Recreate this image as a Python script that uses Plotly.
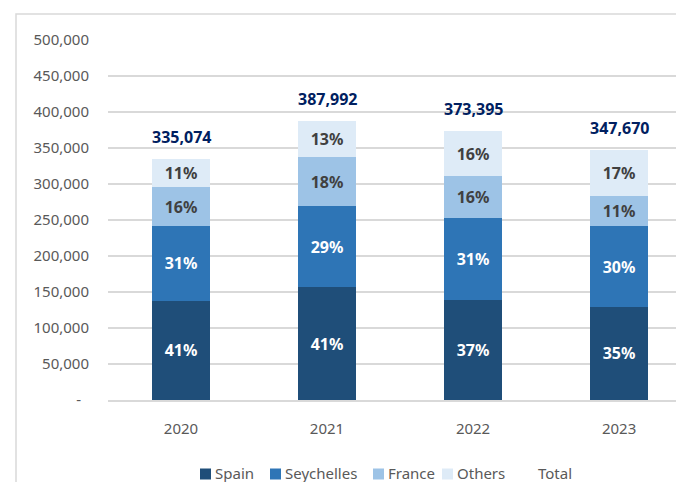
import plotly.graph_objects as go

years = ["2020", "2021", "2022", "2023"]
spain = [138200, 156300, 138600, 129300]
seychelles = [103600, 112900, 113500, 112100]
france = [53800, 68100, 59200, 41700]
others = [39474, 50692, 62095, 64570]
totals = [335074, 387992, 373395, 347670]

spain_pct = ["41%", "41%", "37%", "35%"]
seychelles_pct = ["31%", "29%", "31%", "30%"]
france_pct = ["16%", "18%", "16%", "11%"]
others_pct = ["11%", "13%", "16%", "17%"]

series_names = ["Spain", "Seychelles", "France", "Others"]
series_vals = [spain, seychelles, france, others]
series_pcts = [spain_pct, seychelles_pct, france_pct, others_pct]
colors = ["#1F4E79", "#2E75B6", "#9DC3E6", "#DEEBF7"]
text_colors = ["#FFFFFF", "#FFFFFF", "#404040", "#404040"]

FONT = "Noto Sans"

fig = go.Figure()
for name, vals, pcts, col, tcol in zip(series_names, series_vals, series_pcts, colors, text_colors):
    fig.add_trace(go.Bar(
        x=years, y=vals, name=name, text=pcts,
        texttemplate="%{text}", textposition="inside",
        insidetextanchor="middle", textangle=0,
        textfont=dict(family=FONT, size=16, color=tcol, weight="bold"),
        marker=dict(color=col, line=dict(width=0)),
        width=0.4, showlegend=False, hoverinfo="skip",
    ))

annotations = []
for i, tot in enumerate(totals):
    annotations.append(dict(
        x=i, y=tot, xref="x", yref="y", text=f"{tot:,}",
        showarrow=False, yanchor="bottom", yshift=9,
        font=dict(family=FONT, size=16, color="#002060", weight="bold"),
    ))

# manual legend (pixel -> paper conversion)
PL, PR, PT, PB = 108, 676, 40, 400
def px(x):
    return (x - PL) / (PR - PL)
def py(y):
    return (PB - y) / (PB - PT)

legend_items = [("Spain", 200, colors[0]), ("Seychelles", 270, colors[1]),
                ("France", 373, colors[2]), ("Others", 442, colors[3]),
                ("Total", None, None)]
shapes = []
leg_y = 473
for label, sx, col in legend_items:
    if sx is not None:
        shapes.append(dict(type="rect", xref="paper", yref="paper",
                           x0=px(sx), x1=px(sx + 11), y0=py(leg_y + 6.5), y1=py(leg_y - 4.5),
                           fillcolor=col, line=dict(width=0)))
        tx = sx + 13
    else:
        tx = 536
    annotations.append(dict(x=px(tx), y=py(leg_y), xref="paper", yref="paper",
                            text=label, showarrow=False, xanchor="left", yanchor="middle",
                            font=dict(family=FONT, size=15, color="#595959")))

# outer border
shapes.append(dict(type="rect", xref="paper", yref="paper",
                   x0=px(16), x1=px(700), y0=py(500), y1=py(14),
                   line=dict(color="#D9D9D9", width=1.5), fillcolor="rgba(0,0,0,0)", layer="below"))

tickvals = [0, 50000, 100000, 150000, 200000, 250000, 300000, 350000, 400000, 450000, 500000]
ticktext = ["-  "] + [f"{v:,}" for v in tickvals[1:]]

fig.update_layout(
    width=676, height=482,
    margin=dict(l=PL, r=0, t=PT, b=482 - PB, pad=0),
    barmode="stack",
    plot_bgcolor="white", paper_bgcolor="white",
    font=dict(family=FONT, color="#595959"),
    annotations=annotations, shapes=shapes,
    showlegend=False,
    xaxis=dict(type="category", range=[-0.5, 3.39], showgrid=False, showline=True,
               linecolor="#D9D9D9", linewidth=1.5,
               tickfont=dict(family=FONT, size=15, color="#595959"),
               ticks="", ticklabelstandoff=14, fixedrange=True),
    yaxis=dict(range=[0, 500000], tickvals=tickvals, ticktext=ticktext,
               showgrid=True, gridcolor="#D9D9D9", gridwidth=1.5, zeroline=False,
               tickfont=dict(family=FONT, size=15, color="#595959"),
               ticks="", ticklabelstandoff=18, fixedrange=True),
)

fig.write_html("out.html", config={"displayModeBar": False},
               post_script="document.body.style.margin='0px';document.body.style.padding='0px';")
